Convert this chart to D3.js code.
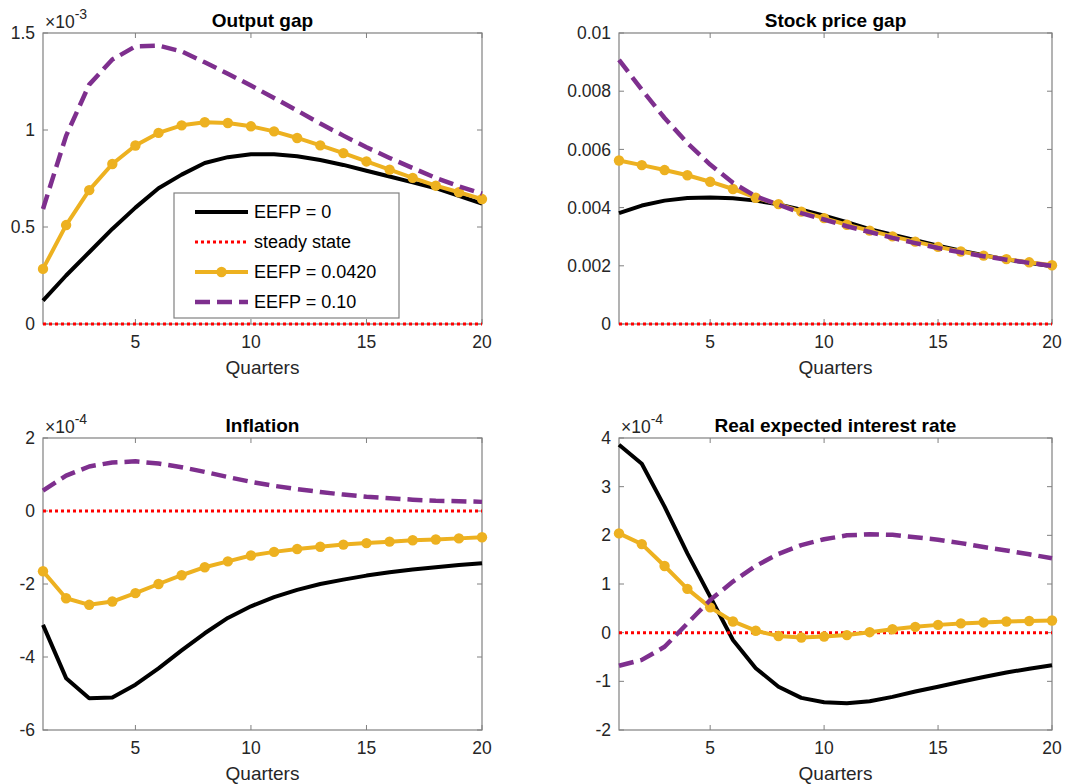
<!DOCTYPE html>
<html>
<head>
<meta charset="utf-8">
<script src="https://cdn.jsdelivr.net/npm/d3@7"></script>
<style>
  body { margin: 0; background: #fff; }
  svg { display: block; font-family: "Liberation Sans", Arial, sans-serif; }
</style>
</head>
<body>
<svg id="chart" width="1071" height="784"></svg>
<script>
// quarters 1..20
const quarters = d3.range(1, 21)

// Output gap (x 1e-3)
const outputZero = [0.12, 0.25, 0.37, 0.49, 0.60, 0.70, 0.77, 0.83, 0.86, 0.875, 0.875, 0.865, 0.845, 0.82, 0.79, 0.76, 0.73, 0.70, 0.66, 0.62]
const outputMid = [0.284, 0.51, 0.69, 0.825, 0.92, 0.985, 1.024, 1.04, 1.036, 1.019, 0.993, 0.959, 0.921, 0.881, 0.838, 0.796, 0.753, 0.713, 0.679, 0.644]
const outputHigh = [0.593, 0.97, 1.234, 1.363, 1.431, 1.435, 1.405, 1.349, 1.29, 1.229, 1.165, 1.10, 1.033, 0.971, 0.911, 0.856, 0.804, 0.753, 0.71, 0.672]

// Stock price gap
const stockZero = [0.00381, 0.00407, 0.00424, 0.00433, 0.00435, 0.00432, 0.00424, 0.00411, 0.00393, 0.00372, 0.00350, 0.00326, 0.00307, 0.00288, 0.00269, 0.00252, 0.00236, 0.00222, 0.00210, 0.00198]
const stockMid = [0.00562, 0.00546, 0.00529, 0.00511, 0.00489, 0.00464, 0.00434, 0.00412, 0.00386, 0.00364, 0.00341, 0.00321, 0.00301, 0.00283, 0.00265, 0.00249, 0.00235, 0.00223, 0.00212, 0.00202]
const stockHigh = [0.00908, 0.00805, 0.00708, 0.00622, 0.00548, 0.00485, 0.00439, 0.00410, 0.00381, 0.00359, 0.00336, 0.00316, 0.00296, 0.00278, 0.00261, 0.00246, 0.00233, 0.00221, 0.00210, 0.00200]

// Inflation (x 1e-4)
const inflZero = [-3.12, -4.58, -5.13, -5.11, -4.76, -4.31, -3.82, -3.35, -2.93, -2.61, -2.36, -2.16, -2.0, -1.88, -1.77, -1.68, -1.60, -1.54, -1.48, -1.43]
const inflMid = [-1.65, -2.39, -2.57, -2.48, -2.25, -2.0, -1.76, -1.54, -1.38, -1.22, -1.12, -1.04, -0.98, -0.92, -0.88, -0.84, -0.80, -0.78, -0.75, -0.72]
const inflHigh = [0.56, 0.97, 1.22, 1.33, 1.36, 1.30, 1.20, 1.07, 0.93, 0.80, 0.69, 0.60, 0.52, 0.45, 0.39, 0.35, 0.31, 0.28, 0.27, 0.25]

// Real expected interest rate (x 1e-4)
const rateZero = [3.86, 3.47, 2.59, 1.63, 0.74, -0.15, -0.73, -1.11, -1.34, -1.43, -1.45, -1.41, -1.32, -1.21, -1.11, -1.01, -0.91, -0.82, -0.74, -0.67]
const rateMid = [2.04, 1.82, 1.37, 0.90, 0.52, 0.23, 0.04, -0.07, -0.10, -0.08, -0.05, 0.01, 0.07, 0.12, 0.16, 0.19, 0.21, 0.23, 0.24, 0.25]
const rateHigh = [-0.68, -0.56, -0.29, 0.19, 0.67, 1.05, 1.37, 1.62, 1.80, 1.92, 2.00, 2.02, 2.01, 1.96, 1.91, 1.84, 1.76, 1.69, 1.61, 1.53]

const steady = quarters.map(() => 0)

const xTicks = [5, 10, 15, 20]
const outputTicks = [0, 0.5, 1, 1.5]
const stockTicks = [0, 0.002, 0.004, 0.006, 0.008, 0.01]
const inflTicks = [-6, -4, -2, 0, 2]
const rateTicks = [-2, -1, 0, 1, 2, 3, 4]

const legendLabels = ["EEFP = 0", "steady state", "EEFP = 0.0420", "EEFP = 0.10"]

const panels = [
  {title: "Output gap", exp: "-3", ticks: outputTicks, series: [outputZero, steady, outputMid, outputHigh],
   box: [43, 482, 33, 324], legend: true},
  {title: "Stock price gap", exp: null, ticks: stockTicks, series: [stockZero, steady, stockMid, stockHigh],
   box: [619, 1052, 33, 324]},
  {title: "Inflation", exp: "-4", ticks: inflTicks, series: [inflZero, steady, inflMid, inflHigh],
   box: [43, 482, 438, 730]},
  {title: "Real expected interest rate", exp: "-4", ticks: rateTicks, series: [rateZero, steady, rateMid, rateHigh],
   box: [619, 1052, 438, 730]}
]

const styles = [
  {color: "#000000", width: 4, dash: null, marker: false},
  {color: "#ff0000", width: 3, dash: "3,3", marker: false},
  {color: "#edb120", width: 4, dash: null, marker: true},
  {color: "#7e2f8e", width: 4.5, dash: "15,7", marker: false}
]

const axisColor = "#808080"
const textColor = "#262626"

const svg = d3.select("#chart")

panels.forEach(p => {
  const [l, r, t, b] = p.box
  const x = d3.scaleLinear().domain([1, 20]).range([l, r])
  const y = d3.scaleLinear().domain(d3.extent(p.ticks)).range([b, t])
  const g = svg.append("g")

  // frame
  g.append("rect")
    .attr("x", l).attr("y", t)
    .attr("width", r - l).attr("height", b - t)
    .attr("fill", "none").attr("stroke", axisColor).attr("stroke-width", 1.2)

  // inward ticks, all four sides
  g.selectAll(".xt").data(xTicks).join("g")
    .call(s => s.append("line").attr("x1", d => x(d)).attr("x2", d => x(d))
      .attr("y1", b).attr("y2", b - 5).attr("stroke", axisColor))
    .call(s => s.append("line").attr("x1", d => x(d)).attr("x2", d => x(d))
      .attr("y1", t).attr("y2", t + 5).attr("stroke", axisColor))
  g.selectAll(".yt").data(p.ticks).join("g")
    .call(s => s.append("line").attr("x1", l).attr("x2", l + 5)
      .attr("y1", d => y(d)).attr("y2", d => y(d)).attr("stroke", axisColor))
    .call(s => s.append("line").attr("x1", r).attr("x2", r - 5)
      .attr("y1", d => y(d)).attr("y2", d => y(d)).attr("stroke", axisColor))

  // tick labels
  g.selectAll(".xl").data(xTicks).join("text")
    .attr("x", d => x(d)).attr("y", b + 24)
    .attr("text-anchor", "middle").attr("font-size", 17.5).attr("fill", textColor)
    .text(d => d)
  g.selectAll(".yl").data(p.ticks).join("text")
    .attr("x", l - 8).attr("y", d => y(d)).attr("dy", "0.35em")
    .attr("text-anchor", "end").attr("font-size", 17.5).attr("fill", textColor)
    .text(d => String(d))

  // labels
  g.append("text")
    .attr("x", (l + r) / 2).attr("y", b + 50)
    .attr("text-anchor", "middle").attr("font-size", 19).attr("fill", textColor)
    .text("Quarters")
  g.append("text")
    .attr("x", (l + r) / 2).attr("y", t - 6)
    .attr("text-anchor", "middle").attr("font-size", 19).attr("font-weight", "bold").attr("fill", "#000")
    .text(p.title)

  if (p.exp) {
    const e = g.append("text").attr("x", l + 2).attr("y", t - 5)
      .attr("font-size", 17.5).attr("fill", textColor)
    e.append("tspan").text("\u00d710")
    e.append("tspan").attr("dy", -9).attr("font-size", 14).text(p.exp)
  }

  // lines
  const line = d3.line().x((d, i) => x(quarters[i])).y(d => y(d))
  p.series.forEach((vals, k) => {
    const st = styles[k]
    g.append("path")
      .attr("d", line(vals))
      .attr("fill", "none")
      .attr("stroke", st.color)
      .attr("stroke-width", st.width)
      .attr("stroke-dasharray", st.dash)
      .attr("stroke-linejoin", "round")
    if (st.marker) {
      g.selectAll(null).data(vals).join("circle")
        .attr("cx", (d, i) => x(quarters[i])).attr("cy", d => y(d))
        .attr("r", 5.2).attr("fill", st.color)
    }
  })

  if (p.legend) {
    const lg = g.append("g")
    lg.append("rect").attr("x", 174).attr("y", 193).attr("width", 225).attr("height", 125)
      .attr("fill", "#fff").attr("stroke", axisColor).attr("stroke-width", 1.2)
    legendLabels.forEach((lab, k) => {
      const st = styles[k]
      const yy = 212 + k * 30
      lg.append("line").attr("x1", 195).attr("x2", 248).attr("y1", yy).attr("y2", yy)
        .attr("stroke", st.color).attr("stroke-width", st.width)
        .attr("stroke-dasharray", st.dash)
      if (st.marker) lg.append("circle").attr("cx", 221.5).attr("cy", yy).attr("r", 5.2).attr("fill", st.color)
      lg.append("text").attr("x", 254).attr("y", yy).attr("dy", "0.35em")
        .attr("font-size", 18).attr("fill", "#000").text(lab)
    })
  }
})
</script>
</body>
</html>
